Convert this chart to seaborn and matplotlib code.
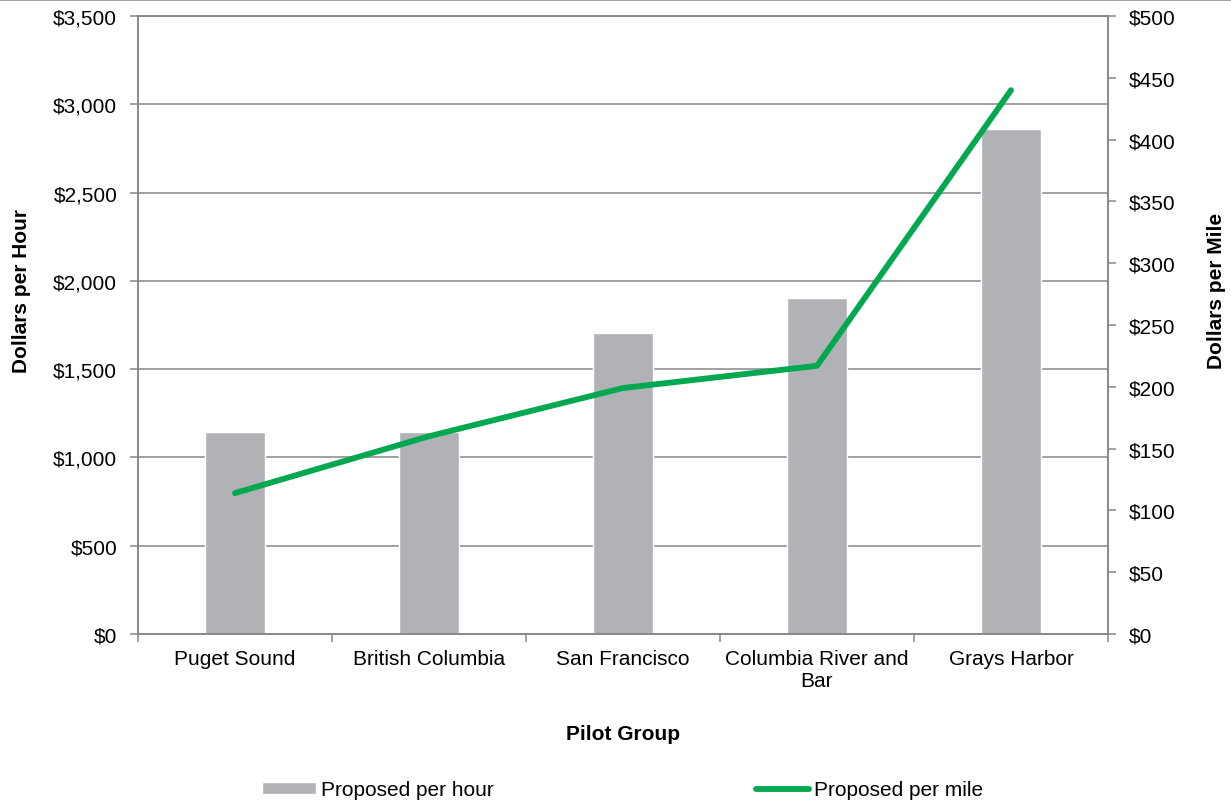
import numpy as np
import pandas as pd
import matplotlib
matplotlib.use("Agg")
import matplotlib.pyplot as plt
import seaborn as sns
from matplotlib.ticker import FuncFormatter, MultipleLocator
from matplotlib.lines import Line2D

# ---- data ----
categories = ["Puget Sound", "British Columbia", "San Francisco",
              "Columbia River and\nBar", "Grays Harbor"]
per_hour = [1142, 1146, 1706, 1902, 2862]
per_mile = [114, 160, 199, 217, 440]
series_labels = ["Proposed per hour", "Proposed per mile"]

df = pd.DataFrame({
    "group": pd.Categorical(categories, categories=categories, ordered=True),
    "hour": per_hour,
    "mile": per_mile,
})
df["pos"] = df["group"].cat.codes

BAR = "#B1B2B6"
GREEN = "#00A94F"
GRID = "#868686"
FS = 15

sns.set_style("white")
plt.rcParams["font.family"] = ["Liberation Sans", "DejaVu Sans"]
plt.rcParams["font.size"] = FS
plt.rcParams["text.color"] = "#000000"
plt.rcParams["axes.labelcolor"] = "#000000"
plt.rcParams["xtick.labelcolor"] = "#000000"
plt.rcParams["ytick.labelcolor"] = "#000000"

fig = plt.figure(figsize=(12.31, 8.12), dpi=100)
ax = fig.add_axes([138 / 1231, 1 - 635 / 812, 970 / 1231, 618 / 812])

sns.barplot(data=df, x="group", y="hour", color=BAR, saturation=1,
            width=0.31, ax=ax, zorder=2)
ax2 = ax.twinx()
sns.lineplot(data=df, x="pos", y="mile", color=GREEN, lw=4.2, ax=ax2,
             solid_capstyle="round")

ax.set_xlim(-0.5, len(categories) - 0.5)
ax.set_ylim(0, 3500)
ax2.set_ylim(0, 500)

money = FuncFormatter(lambda v, p: f"${v:,.0f}")
ax.yaxis.set_major_locator(MultipleLocator(500))
ax.yaxis.set_major_formatter(money)
ax2.yaxis.set_major_locator(MultipleLocator(50))
ax2.yaxis.set_major_formatter(money)

# x ticks: boundaries (major, unlabeled), centers (minor, labeled)
ax.set_xticks(np.arange(-0.5, len(categories), 1.0))
ax.set_xticklabels([""] * (len(categories) + 1))
ax.set_xticks(df["pos"].to_numpy(), minor=True)
ax.set_xticklabels(categories, minor=True)

ax.grid(axis="y", color=GRID, lw=1.1, zorder=0)
ax.grid(axis="x", visible=False)
ax.set_axisbelow(True)

ax.tick_params(axis="x", which="major", bottom=True, length=6, width=1.1,
               color=GRID, direction="out")
ax.tick_params(axis="x", which="minor", bottom=True, length=0, pad=11,
               labelsize=FS, labelcolor="#000000")
ax.tick_params(axis="y", left=True, length=6, width=1.1, color=GRID,
               direction="out", pad=9, labelsize=FS, labelcolor="#000000")
ax2.tick_params(axis="y", right=True, length=6, width=1.1, color=GRID,
                direction="out", pad=9, labelsize=FS, labelcolor="#000000")

for a in (ax, ax2):
    for s in a.spines.values():
        s.set_color(GRID)
        s.set_linewidth(1.1)

ax.set_xlabel("Pilot Group", fontsize=FS, fontweight="bold", color="#000000")
ax.xaxis.set_label_coords(0.5, -0.145)
ax.set_ylabel("Dollars per Hour", fontsize=FS, fontweight="bold", color="#000000")
ax.yaxis.set_label_coords(-0.11, 0.556)
ax2.set_ylabel("Dollars per Mile", fontsize=FS, fontweight="bold", color="#000000")
ax2.yaxis.set_label_coords(1.102, 0.556)

handles = [ax.patches[0], ax2.lines[0]]
fig.legend(handles, series_labels, loc="center",
           bbox_to_anchor=(623 / 1231, 1 - 791 / 812), ncol=2, frameon=False,
           fontsize=FS, handlelength=2.55, handleheight=0.5,
           handletextpad=0.25, columnspacing=12.6)

fig.add_artist(Line2D([0, 1], [0.999, 0.999], transform=fig.transFigure,
                      color=GRID, lw=1.1))

fig.savefig("out.png", dpi=100)
